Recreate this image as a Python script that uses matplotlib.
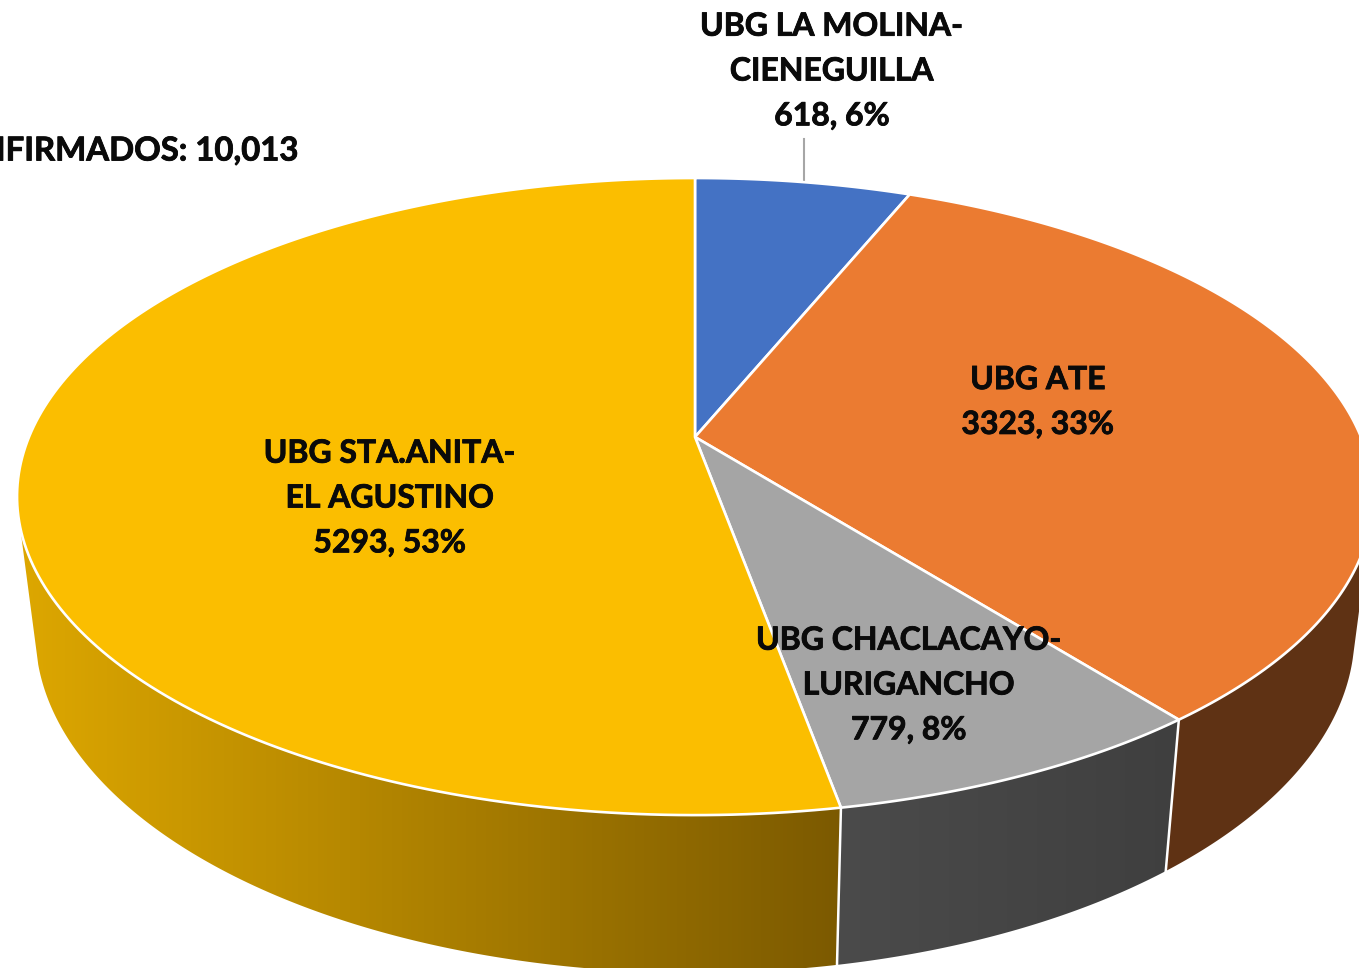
import numpy as np
import matplotlib

matplotlib.use("Agg")
import matplotlib.pyplot as plt
import matplotlib.patheffects as pe
from matplotlib.colors import LinearSegmentedColormap
from matplotlib.patches import Polygon

plt.rcParams["font.family"] = ["Lato", "DejaVu Sans"]

names = ["UBG LA MOLINA-\nCIENEGUILLA", "UBG ATE", "UBG CHACLACAYO-\nLURIGANCHO", "UBG STA.ANITA-\nEL AGUSTINO"]
values = [618, 3323, 779, 5293]
colors = ["#4472C4", "#EB7B31", "#A5A5A5", "#FBBE00"]
label_pos = [(832, 71), (1038, 402), (909, 685), (390, 498)]
title = "CONFIRMADOS: 10,013"

W, H = 1359, 968
CX = 695
K = 0.187
TOP = dict(a=666, b=307.4, y0=437)  # disco superior, en pixeles
BOTTOM = dict(a=648, b=328, y0=569.4)  # disco inferior
TEXT_COLOR = "#0A0A0A"
BOLDER = [pe.withStroke(linewidth=0.6, foreground=TEXT_COLOR)]


def project(theta, disc, r=1.0):
    """angulo (grados, horario desde arriba) -> pixel con perspectiva"""
    t = np.radians(theta)
    u, v = r * np.sin(t), r * np.cos(t)
    d = 1 + K * v
    return CX + disc["a"] * u / d, disc["y0"] - disc["b"] * v / d


def wall_path(t0, t1):
    th = np.linspace(t0, t1, 200)
    x0, y0 = project(th, TOP)
    x1, y1 = project(th, BOTTOM)
    return np.r_[np.c_[x0, y0], np.c_[x1, y1][::-1]]


def draw_wall(t0, t1, c_left, c_right, x_left, x_right):
    cmap = LinearSegmentedColormap.from_list("w", [c_left, c_right])
    grad = np.linspace(0, 1, 256)[None, :]
    im = ax.imshow(grad, cmap=cmap, aspect="auto", extent=(x_left, x_right, H, 0), zorder=1)
    patch = Polygon(wall_path(t0, t1), closed=True, transform=ax.transData, fc="none", ec="none")
    ax.add_patch(patch)
    im.set_clip_path(patch)


fig = plt.figure(figsize=(W / 100, H / 100), dpi=100)
ax = fig.add_axes([0, 0, 1, 1])

# angulos de cada sector a partir de los datos
edges = np.r_[0, np.cumsum(values)] / sum(values) * 360

# paredes laterales
draw_wall(105, edges[2], "#5F3214", "#5F3214", 0, W)
draw_wall(edges[2], edges[3], "#4B4B4B", "#3F3F3F", 830, 1185)
draw_wall(edges[3], 254, "#DDA700", "#7B5900", 20, 848)

ax.set_xlim(0, W)
ax.set_ylim(H, 0)
ax.axis("off")

# uniones blancas entre paredes
for e in edges[2:4]:
    x0, y0 = project(e, TOP)
    x1, y1 = project(e, BOTTOM)
    ax.plot([x0, x1], [y0, y1], color="white", lw=1.8, zorder=2)

# cara superior
for i in range(len(values)):
    th = np.linspace(edges[i], edges[i + 1], 200)
    x, y = project(th, TOP)
    xa, ya = project(0, TOP, r=0)
    ax.add_patch(Polygon(np.r_[[[xa, ya]], np.c_[x, y]], closed=True, fc=colors[i],
                         ec="white", lw=1.9, joinstyle="round", zorder=3))

# etiquetas
total = sum(values)
for name, val, pos in zip(names, values, label_pos):
    ax.text(pos[0], pos[1], f"{name}\n{val}, {val / total * 100:.0f}%", ha="center", va="center",
            fontsize=23, fontweight="bold", color=TEXT_COLOR, linespacing=1.66, zorder=5,
            path_effects=BOLDER)

ax.plot([804, 804], [139, 182], color="#A6A6A6", lw=1.5, zorder=2)
ax.text(298, 151, title, ha="right", va="center", fontsize=23.7, fontweight="bold", color=TEXT_COLOR,
        zorder=5, path_effects=BOLDER)

fig.savefig("out.png", dpi=100)
